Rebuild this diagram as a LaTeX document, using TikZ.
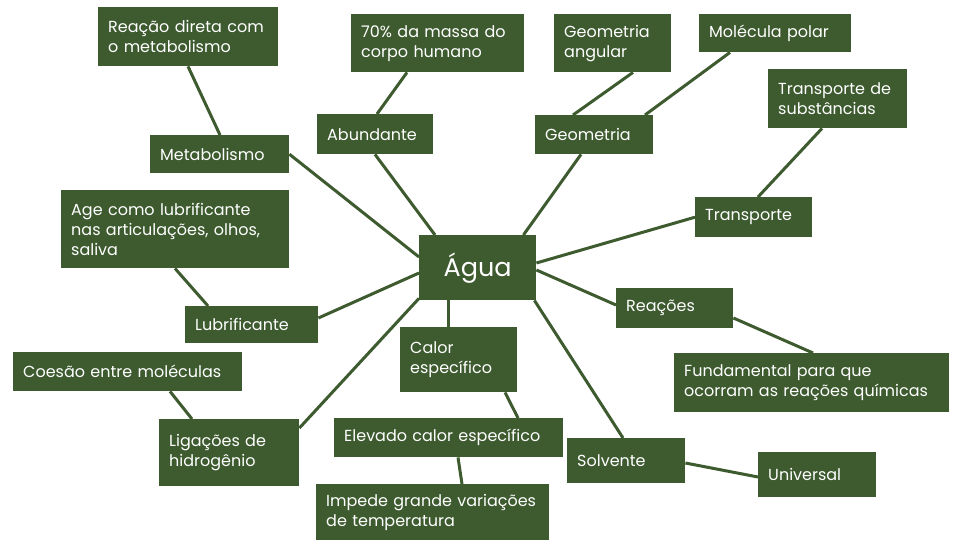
\documentclass[tikz,border=0pt]{standalone}
\usepackage{fontspec}
\setmainfont{Poppins}
\usepackage{xcolor}
\definecolor{leafgreen}{HTML}{3D5B2F}

\begin{document}
\begin{tikzpicture}[
        x=1pt, y=-1pt,
        leaf/.style={fill=leafgreen, text=white, anchor=north west, inner xsep=10pt, inner ysep=0pt, align=left,
            font=\fontsize{16}{20}\selectfont,
            execute at begin node={\rightskip=0pt plus 2em minus 40pt\hyphenpenalty=10000}},
        hub/.style={leaf, align=center, inner xsep=0pt, font=\fontsize{25.5}{29}\selectfont},
        link/.style={draw=leafgreen, line width=3pt}
    ]
        \useasboundingbox (0,0) rectangle (960,540);

        % Centre
        \node[hub, text width=117pt, minimum height=65pt] (agua) at (419,235) {Água};

        % First ring
        \node[leaf, text width=119pt, minimum height=38pt] (metab) at (150,135) {Metabolismo};
        \node[leaf, text width=96pt, minimum height=40pt] (abund) at (317,114) {Abundante};
        \node[leaf, text width=98pt, minimum height=39pt] (geom) at (535,115) {Geometria};
        \node[leaf, text width=97pt, minimum height=40pt] (transp) at (695,197) {Transporte};
        \node[leaf, text width=97pt, minimum height=40pt] (reacoes) at (616,288) {Reações};
        \node[leaf, text width=98pt, minimum height=45pt] (solv) at (567,438) {Solvente};
        \node[leaf, text width=97pt, minimum height=65pt] (calor) at (400,327) {Calor\\específico};
        \node[leaf, text width=120pt, minimum height=67pt] (lig) at (159,419) {Ligações de\\hidrogênio};
        \node[leaf, text width=113pt, minimum height=37pt] (lubr) at (185,306) {Lubrificante};

        % Outer ring
        \node[leaf, text width=160pt, minimum height=59pt] (reacao) at (98,7) {Reação direta com\\o metabolismo};
        \node[leaf, text width=153pt, minimum height=58pt] (massa) at (351,14) {70\% da massa do\\corpo humano};
        \node[leaf, text width=97pt, minimum height=58pt] (angular) at (554,14) {Geometria\\angular};
        \node[leaf, text width=132pt, minimum height=38pt] (polar) at (699,14) {Molécula polar};
        \node[leaf, text width=119pt, minimum height=59pt] (subst) at (768,69) {Transporte de\\substâncias};
        \node[leaf, text width=208pt, minimum height=78pt] (age) at (61,190) {Age como lubrificante\\nas articulações, olhos,\\saliva};
        \node[leaf, text width=255pt, minimum height=59pt] (fund) at (674,353) {Fundamental para que\\ocorram as reações químicas};
        \node[leaf, text width=209pt, minimum height=39pt] (coesao) at (13,352) {Coesão entre moléculas};
        \node[leaf, text width=209pt, minimum height=39pt] (elev) at (334,418) {Elevado calor específico};
        \node[leaf, text width=98pt, minimum height=45pt] (univ) at (758,452) {Universal};
        \node[leaf, text width=213pt, minimum height=56pt] (impede) at (316,484) {Impede grande variações\\de temperatura};

        % Outer links
        \draw[link] ([xshift=90]reacao.south west) -- ([xshift=70]metab.north west);
        \draw[link] ([xshift=56]massa.south west) -- ([xshift=60]abund.north west);
        \draw[link] ([xshift=79]angular.south west) -- ([xshift=38]geom.north west);
        \draw[link] ([xshift=31]polar.south west) -- ([xshift=110]geom.north west);
        \draw[link] ([xshift=54]subst.south west) -- ([xshift=63]transp.north west);
        \draw[link] ([xshift=114]age.south west) -- ([xshift=23]lubr.north west);
        \draw[link] ([xshift=157]coesao.south west) -- ([xshift=33]lig.north west);
        \draw[link] ([xshift=105]calor.south west) -- ([xshift=184]elev.north west);
        \draw[link] ([xshift=124]elev.south west) -- ([xshift=146]impede.north west);
        \draw[link] ([yshift=-30]reacoes.north east) -- ([xshift=139]fund.north west);
        \draw[link] ([yshift=-25]solv.north east) -- ([yshift=-25]univ.north west);

        % Links to the centre
        \draw[link] (metab.east) -- ([yshift=-22]agua.north west);
        \draw[link] ([xshift=58]abund.south west) -- ([xshift=16]agua.north west);
        \draw[link] ([xshift=46]geom.south west) -- ([xshift=-13]agua.north east);
        \draw[link] (transp.west) -- ([yshift=-28]agua.north east);
        \draw[link] ([yshift=-35]agua.north east) -- ([yshift=-17]reacoes.north west);
        \draw[link] ([xshift=-2]agua.south east) -- ([xshift=56]solv.north west);
        \draw[link] ([xshift=29]agua.south west) -- ([xshift=48]calor.north west);
        \draw[link] ([yshift=2]agua.south west) -- ([yshift=-9]lig.north east);
        \draw[link] ([yshift=-12]lubr.north east) -- ([yshift=-38]agua.north west);
    \end{tikzpicture}
\end{document}
